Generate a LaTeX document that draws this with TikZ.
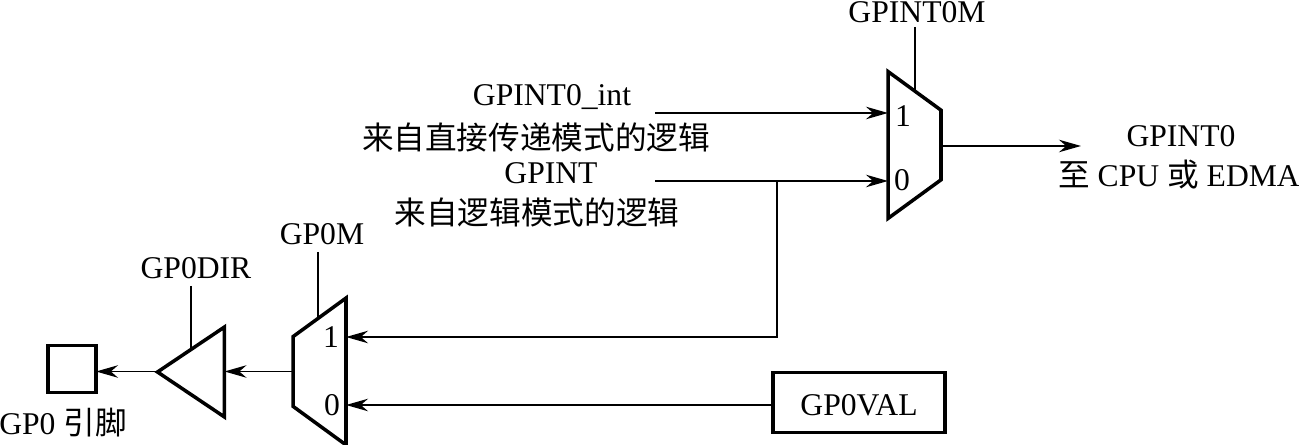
\documentclass[tikz,border=0pt]{standalone}
\usepackage{fontspec}
\setmainfont{Liberation Serif}
\newfontfamily\cjk{Noto Sans CJK SC}
\usetikzlibrary{positioning,arrows.meta,shapes.geometric,calc}

\begin{document}
\begin{tikzpicture}[
  x=0.02cm, y=-0.02cm,
  font=\fontsize{18}{22}\selectfont,
  >={Stealth[length=4.4mm,width=2.5mm]},
  thin line/.style={line width=1pt},
  ar/.style={->, thin line},
  label/.style={inner sep=0pt},
  mux/.style={draw, line width=2pt, trapezium, trapezium stretches=true, trapezium angle=61, outer sep=0pt,
    minimum width=2.94cm, minimum height=1.06cm},
  buf/.style={draw, line width=2pt, isosceles triangle, isosceles triangle stretches=true, shape border rotate=180, outer sep=0pt,
    inner sep=0pt, minimum width=1.8cm, minimum height=1.34cm},
  boxnode/.style={draw, line width=2pt, outer sep=0pt}
]
\useasboundingbox (0,0) rectangle (1299,445);
% 选择器
\node[mux, shape border rotate=270] (muxint) at (914.5,145) {};
\node[mux, shape border rotate=90] (muxgp) at (319.5,371.5) {};
\node[buf] (bufdir) at (200.5,372) {};
\node[boxnode, minimum width=0.96cm, minimum height=0.94cm] (pin) at (72,369) {};
\node[boxnode, minimum width=3.44cm, minimum height=1.2cm, text height=15pt] (gpval) at (859,402.5) {GP0VAL};
% 文字
\node[label] (lint) at (552,97) {GPINT0\_int};
\node[label] (lintcn) at (536,137) {\cjk 来自直接传递模式的逻辑};
\node[label] (lgp) at (551,173) {GPINT};
\node[label] (lgpcn) at (537,212) {\cjk 来自逻辑模式的逻辑};
\node[label] (lsel) at (917,12) {GPINT0M};
\node[label] (lout) at (1181,136) {GPINT0};
\node[label] (loutcn) at (1179,175) {{\cjk 至} CPU {\cjk 或} EDMA};
\node[label] (lgpm) at (322,234) {GP0M};
\node[label] (ldir) at (196,268) {GP0DIR};
\node[label] (lpin) at (63,423) {GP0 {\cjk 引脚}};
\node[label] (one) at (903,116) {1};
\node[label] (zero) at (902,180) {0};
\node[label] (onegp) at (331,337) {1};
\node[label] (zerogp) at (332,405) {0};
% 连线端点
\coordinate (inint) at (655,113);
\coordinate (ingp) at (655,181);
\coordinate (tap) at (777,181);
\coordinate (outint) at (1081,146);
\coordinate (selint) at (915,27);
\coordinate (selgp) at (318,252);
\coordinate (seldir) at (191,286);
% 箭头
\draw[ar] (inint) -- (inint -| muxint.west);
\draw[ar] (ingp) -- (ingp -| muxint.west);
\draw[ar] (tap) |- (muxgp.east |- onegp.center);
\draw[ar] (gpval.west |- zerogp.center) -- (muxgp.east |- zerogp.center);
\draw[ar] (muxint.east |- outint) -- (outint);
\draw[ar] (muxgp.west) -- (muxgp.west -| bufdir.east);
\draw[ar] (muxgp.west -| bufdir.west) -- (muxgp.west -| pin.east);
\draw[thin line] (selint) -- (selint |- muxint.north);
\draw[thin line] (selgp) -- (selgp |- muxgp.north);
\draw[thin line] (seldir) -- (seldir |- bufdir.right side);
\end{tikzpicture}
\end{document}
